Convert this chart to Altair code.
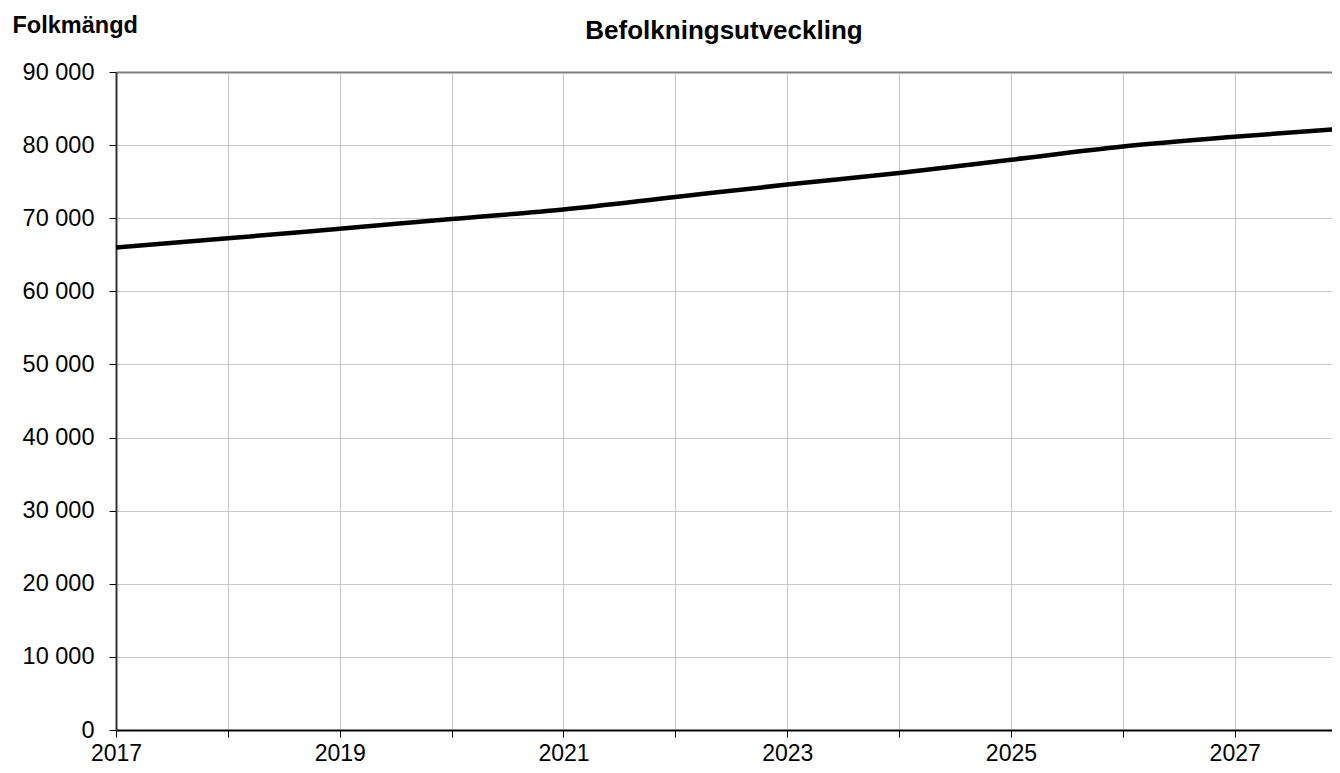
import altair as alt
import pandas as pd

years = [2017, 2018, 2019, 2020, 2021, 2022, 2023, 2024, 2025, 2026, 2027, 2028]
population = [66000, 67250, 68570, 69900, 71200, 72900, 74600, 76200, 78000, 79800, 81150, 82300]
x_ticks = list(range(2017, 2028))
y_ticks = list(range(0, 90001, 10000))

df = pd.DataFrame({"year": years, "pop": population})

FONT = "Liberation Sans"

chart = alt.Chart(df).mark_line(color="black", strokeWidth=4.5, clip=True,
                                interpolate="monotone").encode(
    x=alt.X("year:Q",
            scale=alt.Scale(domain=[2017, 2027.87], nice=False, zero=False),
            axis=alt.Axis(values=x_ticks, title=None, grid=True,
                          labelExpr="datum.value % 2 == 1 ? format(datum.value, 'd') : ''",
                          labelFontSize=23, labelFont=FONT, labelColor="black",
                          labelPadding=5, tickSize=7, tickColor="black",
                          domainColor="black", domainWidth=2,
                          gridColor="#c8c8c8", gridWidth=1, labelFlush=False)),
    y=alt.Y("pop:Q",
            scale=alt.Scale(domain=[0, 90000], nice=False),
            axis=alt.Axis(values=y_ticks, title="Folkmängd",
                          labelExpr="replace(format(datum.value, ','), ',', ' ')",
                          labelFontSize=23.5, labelFont=FONT, labelColor="black",
                          labelPadding=15, tickSize=7, tickColor="black",
                          domainColor="#333333", domainWidth=2,
                          gridColor={"condition": {"test": "datum.value == 90000", "value": "#808080"}, "value": "#c8c8c8"},
                          gridWidth={"condition": {"test": "datum.value == 90000", "value": 2}, "value": 1},
                          titleAngle=0, titleAlign="left", titleBaseline="alphabetic",
                          titleX=-104, titleY=-40, titleFont=FONT, titleFontSize=23.5,
                          titleFontWeight="bold", titleColor="black")),
).properties(
    width=1216,
    height=658,
    title=alt.TitleParams("Befolkningsutveckling", font=FONT, fontSize=26,
                          fontWeight="bold", color="black", anchor="middle",
                          frame="group", offset=-31),
    autosize=alt.AutoSizeParams(type="none"),
    padding={"left": 108, "top": 64, "right": 0, "bottom": 35},
).configure_view(stroke=None).configure(background="white")

chart.save("out.html", embed_options={"renderer": "svg", "actions": False})
